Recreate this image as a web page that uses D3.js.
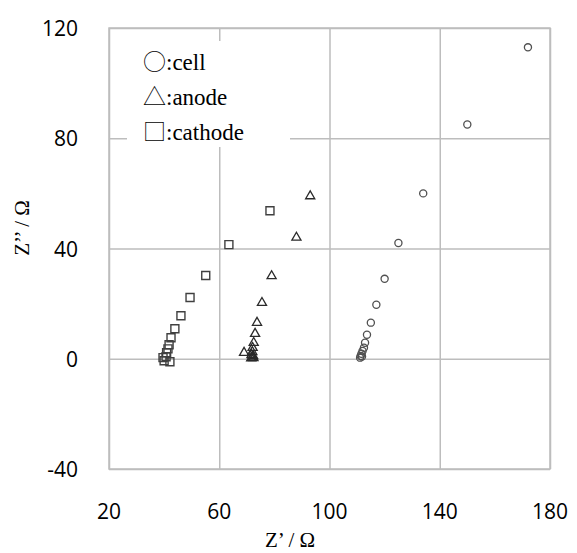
<script src="https://d3js.org/d3.v7.min.js"></script>
<style>
  body { margin: 0; background: #fff; }
</style>
<svg width=577 height=553></svg>
<script>

// Nyquist data (Z' , Z'')
var cell = [[172, 113], [150, 85], [134, 60], [125, 42], [120, 29], [117, 19.6],
  [115, 13.1], [113.6, 8.7], [112.9, 5.8], [112.5, 4], [112, 2.8], [111.6, 1.8],
  [111.3, 1], [111.1, 0.4], [111.8, 0.8]];
var anode = [[93, 59], [88, 44], [79, 30], [75.5, 20.3], [73.7, 13.1], [73, 9.1],
  [72.5, 5.8], [72.1, 4], [69, 2.2], [72, 2.5], [71.7, 1.4], [72.3, 1],
  [71.9, 0.5], [72.4, 0.3], [71.6, 0.2]];
var cathode = [[78.4, 53.7], [63.5, 41.4], [55.1, 30.2], [49.4, 22.2], [46.1, 15.6],
  [43.9, 10.9], [42.5, 7.6], [41.8, 5.1], [41.4, 3.6], [40.9, 2.2], [40.7, 0.7],
  [39.6, 0.4], [40, -0.7], [42.1, -1.1]];

var xTicks = [20, 60, 100, 140, 180];
var yTicks = [-40, 0, 40, 80, 120];
var legendSymbols = ['\u25CB', '\u25B3', '\u25A1'];
var legendNames = [':cell', ':anode', ':cathode'];

var svg = d3.select('svg');
var pLeft = 109, pRight = 550, pTop = 28, pBottom = 469;

var x = d3.scaleLinear().domain([20, 180]).range([pLeft, pRight]);
var y = d3.scaleLinear().domain([-40, 120]).range([pBottom, pTop]);

var grid = '#bdbdbd';

// grid lines
svg.append('g')
  .attr('transform', 'translate(0,' + pBottom + ')')
  .call(d3.axisBottom(x).tickValues(xTicks).tickSize(-(pBottom - pTop)).tickFormat(''));
svg.append('g')
  .attr('transform', 'translate(' + pLeft + ',0)')
  .call(d3.axisLeft(y).tickValues(yTicks).tickSize(-(pRight - pLeft)).tickFormat(''));
svg.selectAll('.domain').remove();
svg.selectAll('.tick line').attr('stroke', grid).attr('stroke-width', 1.5);

// plot border
svg.append('rect')
  .attr('x', pLeft).attr('y', pTop)
  .attr('width', pRight - pLeft).attr('height', pBottom - pTop)
  .attr('fill', 'none').attr('stroke', grid).attr('stroke-width', 1.5);

// tick labels
svg.selectAll('.xlab')
  .data(xTicks)
  .enter().append('text')
  .attr('x', function(d) { return x(d); })
  .attr('y', pBottom + 50)
  .attr('text-anchor', 'middle')
  .style('font-family', 'Open Sans, sans-serif')
  .style('font-size', '21px')
  .text(function(d) { return d; });

svg.selectAll('.ylab')
  .data(yTicks)
  .enter().append('text')
  .attr('x', pLeft - 31)
  .attr('y', function(d) { return y(d) + 8; })
  .attr('text-anchor', 'end')
  .style('font-family', 'Open Sans, sans-serif')
  .style('font-size', '21px')
  .text(function(d) { return d; });

// axis titles
svg.append('text')
  .attr('x', 290).attr('y', 547)
  .attr('text-anchor', 'middle')
  .style('font-family', 'Liberation Serif, serif')
  .style('font-size', '21px')
  .text('Z\u2019 / \u03A9');

svg.append('text')
  .attr('transform', 'translate(29,228) rotate(-90)')
  .attr('text-anchor', 'middle')
  .style('font-family', 'Liberation Serif, serif')
  .style('font-size', '21px')
  .text('Z\u2019\u2019 / \u03A9');

// legend (white box hides the grid behind it)
svg.append('rect')
  .attr('x', 127).attr('y', 41)
  .attr('width', 163).attr('height', 106)
  .attr('fill', '#fff');

var leg = svg.selectAll('.leg')
  .data(legendNames)
  .enter().append('text')
  .attr('x', 143)
  .attr('y', function(d, i) { return 70 + i * 35; })
  .style('font-family', 'Liberation Serif, serif')
  .style('font-size', '23px');
leg.append('tspan')
  .style('font-family', 'Noto Sans CJK JP')
  .style('font-weight', 300)
  .text(function(d, i) { return legendSymbols[i]; });
leg.append('tspan')
  .text(function(d) { return d; });

// markers
function drawSeries(data, type, size, color, width) {
  svg.append('g')
    .selectAll('path')
    .data(data)
    .enter().append('path')
    .attr('transform', function(d) { return 'translate(' + x(d[0]) + ',' + y(d[1]) + ')'; })
    .attr('d', d3.symbol().type(type).size(size))
    .attr('fill', 'none')
    .attr('stroke', color)
    .attr('stroke-width', width);
}

drawSeries(cathode, d3.symbolSquare, 64, '#404040', 1.4);
drawSeries(anode, d3.symbolTriangle, 36, '#2a2a2a', 1.3);
drawSeries(cell, d3.symbolCircle, 40, '#505050', 1.3);

</script>
